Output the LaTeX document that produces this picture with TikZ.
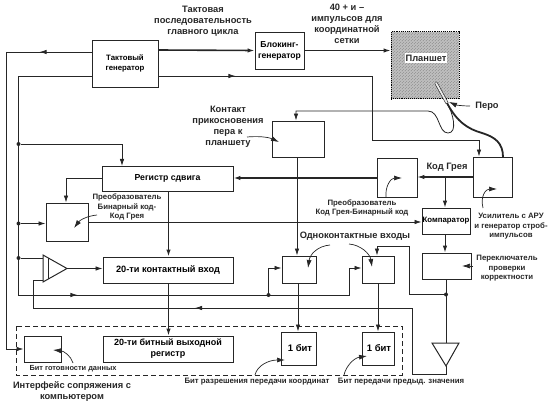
\documentclass[tikz,border=0pt]{standalone}
\usepackage{fontspec}
\setmainfont{Liberation Sans}
\usetikzlibrary{arrows.meta,calc,decorations.markings,patterns}
\definecolor{inkline}{HTML}{262626}
\tikzset{
  wire/.style={draw=inkline, line width=0.8pt},
  heavy/.style={draw=inkline, line width=1.6pt},
  tip/.style={-{Latex[length=7pt,width=4.5pt]}},
  smalltip/.style={-{Latex[length=8pt,width=5pt]}},
  midtip/.style={postaction={decorate}, decoration={markings,
      mark=at position #1 with {\arrow{Latex[length=7pt,width=4.5pt]}}}},
  box/.style={rectangle, draw=inkline, line width=0.9pt, inner sep=0pt, align=center},
  dot/.style={circle, fill=inkline, inner sep=0pt, minimum size=4pt},
  bigtext/.style={align=center, font=\bfseries\fontsize{9.3}{11}\selectfont, text=inkline, inner sep=0pt},
  smalltext/.style={align=center, font=\bfseries\fontsize{7.8}{9.6}\selectfont, text=inkline, inner sep=0pt},
  leader/.style={draw=inkline, line width=0.7pt, smalltip}
}
\begin{document}
\begin{tikzpicture}[x=1pt,y=-1pt]
\useasboundingbox (0,0) rectangle (550,404);

% blocks
\node[box, minimum width=66pt, minimum height=47pt, font=\bfseries\fontsize{7.8}{10}\selectfont] (gen) at (125,63.5) {Тактовый\\генератор};
\node[box, minimum width=49pt, minimum height=37pt, font=\bfseries\fontsize{8.6}{11}\selectfont] (block) at (279.5,50.5) {Блокинг-\\генератор};
\node[box, draw=black, densely dotted, line width=1pt, minimum width=68pt, minimum height=67pt,
      preaction={fill=gray!50}, pattern=north east lines, pattern color=black!45] (tablet) at (425,65.5) {};
\node[bigtext, fill=white, inner xsep=1pt, inner ysep=1.5pt] (tablettext) at (426,58) {Планшет};
\node[box, minimum width=52pt, minimum height=36pt] (touch) at (298,139) {};
\node[box, minimum width=131pt, minimum height=25pt, font=\bfseries\fontsize{8.7}{11}\selectfont] (shift) at (167.5,178.5) {Регистр сдвига};
\node[box, minimum width=40pt, minimum height=39pt] (grayconv) at (397,178) {};
\node[box, minimum width=39pt, minimum height=40pt] (agc) at (492.5,177) {};
\node[box, minimum width=42pt, minimum height=38pt] (binconv) at (67,222) {};
\node[box, minimum width=48pt, minimum height=26pt, font=\bfseries\fontsize{7.8}{9}\selectfont] (comp) at (446,221) {Компаратор};
\node[box, minimum width=49pt, minimum height=26pt] (check) at (446.5,266) {};
\node[box, minimum width=130pt, minimum height=26pt, font=\bfseries\fontsize{9.2}{11}\selectfont] (input) at (168,270) {20-ти контактный вход};
\node[box, minimum width=34pt, minimum height=27pt] (inone) at (299,269.5) {};
\node[box, minimum width=32pt, minimum height=27pt] (intwo) at (378,269.5) {};
\node[box, minimum width=37pt, minimum height=26pt] (ready) at (42.5,349) {};
\node[box, minimum width=130pt, minimum height=26pt, font=\bfseries\fontsize{9}{11}\selectfont] (output) at (168,349) {20-ти битный выходной\\регистр};
\node[box, minimum width=35pt, minimum height=33pt, font=\bfseries\fontsize{9.5}{11}\selectfont] (bitone) at (298.5,348.5) {\hspace*{3pt}1 бит};
\node[box, minimum width=32pt, minimum height=33pt, font=\bfseries\fontsize{9.5}{11}\selectfont] (bittwo) at (378,348.5) {\hspace*{2pt}1 бит};

% amplifier and output buffer
\draw[wire, line width=1pt] (43,255) -- (67,268.5) -- (43,282) -- cycle;
\draw[wire, line width=1pt] (48.5,258) -- (48.5,279);
\coordinate (amptip) at (67,268.5);
\draw[wire, line width=1pt] (432,343) -- (459,343) -- (446,366) -- cycle;
\coordinate (buftop) at (446,343);
\coordinate (buftip) at (446,366);

% junctions
\node[dot] (ja) at (18.5,144) {};
\node[dot] (jb) at (18.5,223.5) {};
\node[dot] (jc) at (18.5,258) {};
\node[dot] (jd) at (268.5,295) {};
\node[dot] (je) at (446,294.5) {};

% connectors
\draw[wire, midtip=52pt] ([yshift=11.5pt]gen.west) -- (6,52);
\draw[wire, tip] (6,52) -- (6,349) -- (ready.west);
\draw[wire, midtip=351pt, tip] ([yshift=-12.5pt]gen.west) -- (18.5,76) -- (18.5,295) -- (349,295) -- (349,268) -- ([yshift=1.5pt]intwo.west);
\draw[heavy, tip] ([yshift=13.5pt]gen.east) -- (block.west);
\draw[wire, midtip=77pt, tip] ([yshift=-12.5pt]gen.east) -- (372,76) -- (372,140) -- (479,140) -- (agc.north -| 479,140);
\draw[wire, line width=1.1pt, tip] (block.east) -- (tablet.west |- block.east);
\draw[wire, tip] (ja) -| (122,166);
\draw[wire, tip] (jb) -- (binconv.west |- jb);
\draw[wire] (jc) -- (43,258);
\draw[wire, tip] (jd) |- ([yshift=1.5pt]inone.west);
\draw[wire, tip] (amptip) -- (input.west |- amptip);
\draw[wire, midtip=325pt] (buftip) -- (446,374) -- (412,374) -- (412,308) -- (33,308) -- (33,280) -- (43,280);
\draw[heavy, tip] (shift.south -| 168.5,191) -- (input.north -| 168.5,257);
\draw[wire, line width=1.2pt, tip] (input.south -| 168.5,283) -- (output.north -| 168.5,336);
\draw[wire, tip] (shift.west) -- (66,178.5) -- (binconv.north -| 66,203);
\draw[heavy, tip] (grayconv.west) -- (shift.east |- grayconv.west);
\draw[wire, line width=1.1pt, tip] (agc.west) -- (grayconv.east |- agc.west);
\draw[wire, line width=1pt, tip] (445,177) -- (comp.north -| 445,208);
\draw[wire, tip] (binconv.east) -- (comp.west |- binconv.east);
\draw[wire, line width=1pt, tip] (comp.south -| 445,234) -- (check.north -| 445,253);
\draw[wire, line width=1pt] (check.south -| 446,279) -- (buftop);
\draw[wire, tip] (je) -- (409,294.5) -- (409,246) -- (377,246) -- (intwo.north -| 377,246);
\draw[wire, tip] (touch.south -| 297,157) -- (inone.north -| 297,157);
\draw[wire, tip] (inone.south -| 298,283) -- (bitone.north -| 298,283);
\draw[wire, tip] (intwo.south) -- (bittwo.north);

% pen, cable and loop
\coordinate (penend) at (447,103);
\coordinate (pentop) at (436,83);
\draw[draw=inkline, line width=0.6pt, double=gray!15, double distance=1.8pt, line cap=round] (pentop) -- (penend);
\draw[heavy, line width=1.8pt] (penend) .. controls (457,122) and (468,129) .. (482,133) .. controls (495,137) and (503,143) .. (503,157);
\draw[wire, tip] (penend) .. controls (453,113) and (458,133) .. (448,133) .. controls (438,133) and (440,111) .. (428,111) -- (296,111) -- (touch.north -| 296,111);

% labels
\node[bigtext] (lbclock) at (203,21) {Тактовая\\последовательность\\главного цикла};
\node[bigtext] (lbpulse) at (347,23.5) {40 + и –\\импульсов для\\координатной\\сетки};
\node[bigtext] (lbtouch) at (228,127) {Контакт\\прикосновения\\пера к\\планшету};
\node[bigtext] (lbpen) at (487,106) {Перо};
\node[bigtext] (lbgray) at (447,167) {Код Грея};
\node[smalltext] (lbbin) at (127,207) {Преобразователь\\Бинарный код-\\Код Грея};
\node[smalltext] (lbconv) at (362,208) {Преобразователь\\Код Грея-Бинарный код};
\node[bigtext] (lbsingle) at (355,236.5) {Одноконтактные входы};
\node[smalltext] (lbagc) at (511,226.5) {Усилитель с АРУ\\и генератор строб-\\импульсов};
\node[smalltext] (lbcheck) at (507,268.5) {Переключатель\\проверки\\корректности};
\node[smalltext, font=\bfseries\fontsize{7.4}{9}\selectfont] (lbready) at (73,369) {Бит готовности данных};
\node[bigtext] (lbiface) at (72,391.5) {Интерфейс сопряжения с\\компьютером};
\node[smalltext] (lben) at (257,382) {Бит разрешения передачи координат};
\node[smalltext] (lbprev) at (401,382) {Бит передачи предыд. значения};

% leaders
\draw[leader] (247,137) .. controls (258,136) and (268,137) .. (279,142);
\draw[leader] (470,106) .. controls (462,106) and (456,105) .. (449,102);
\draw[leader] (97,215) .. controls (87,216) and (80,220) .. (74,228);
\draw[leader] (386,197) .. controls (385,186) and (391,178) .. (402,178);
\draw[leader] (483,208) .. controls (480,196) and (486,189) .. (497,189);
\draw[leader] (330,245) .. controls (318,246) and (310,254) .. (308,268);
\draw[leader] (349,244) .. controls (361,245) and (370,254) .. (372,267);
\draw[leader] (473,266) -- (462,266);
\draw[leader] (73,363) .. controls (71,356) and (64,351) .. (53,350);
\draw[leader] (255,375) .. controls (257,366) and (268,360) .. (285,360);
\draw[leader] (344,375) .. controls (346,366) and (354,358) .. (367,356);

% interface frame
\draw[wire, dashed, dash pattern=on 5pt off 3pt] (16,326) rectangle (402,375);
\end{tikzpicture}
\end{document}
